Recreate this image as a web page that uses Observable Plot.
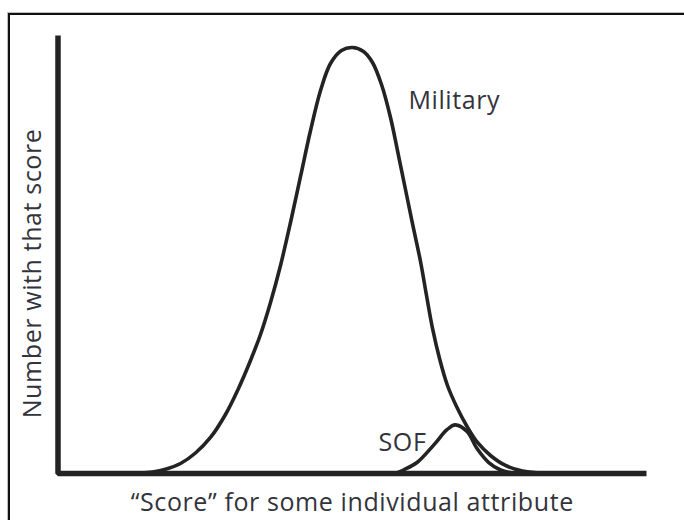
<!DOCTYPE html>
<html>
<head>
<meta charset="utf-8">
<script src="https://cdn.jsdelivr.net/npm/d3@7"></script>
<script src="https://cdn.jsdelivr.net/npm/@observablehq/plot@0.6"></script>
<style>
  html, body { margin: 0; padding: 0; background: #fff; overflow: hidden; }
  #wrap { position: relative; width: 684px; height: 520px; overflow: hidden; background: #fff; }
  #border { position: absolute; left: 8px; top: 13px; width: 720px; height: 600px;
            border-top: 2px solid #111; border-left: 2px solid #111;
            box-shadow: -1px -1px 0 #bdbdbd; pointer-events: none; }
  #chart { position: absolute; left: 0; top: 0; }
</style>
</head>
<body>
<div id="wrap"><div id="border"></div><div id="chart"></div></div>
<script>
// Scale domains (abstract units)
const scoreDomain = [0, 100];
const countDomain = [0, 100];

// "Military" population curve (score, number with that score)
const militaryScore = [11.47, 14.02, 16.06, 18.27, 20.82, 23.36, 25.91, 28.46, 30.67, 32.71, 34.41, 36.11, 37.81, 39.51, 41.21, 42.91, 44.61, 46.30, 48.17, 50.04, 51.91, 53.44, 54.97, 56.50, 57.86, 59.22, 60.41, 61.60, 62.62, 63.64, 64.83, 66.18, 67.72, 69.41, 71.28, 73.49, 76.04, 78.93, 81.99, 84.54];
const militaryCount = [0, 0.09, 0.34, 0.96, 2.28, 4.68, 8.22, 13.47, 19.41, 25.80, 31.74, 39.04, 47.49, 57.31, 67.81, 78.31, 87.44, 93.61, 96.58, 97.26, 96.35, 93.84, 88.81, 81.28, 72.60, 63.70, 55.94, 48.40, 40.64, 33.11, 26.26, 20.09, 15.30, 10.96, 7.08, 4.11, 1.83, 0.57, 0.09, 0];

// "SOF" population curve
const sofScore = [57.35, 58.7, 61.0, 63.9, 66.1, 67.5, 69.5, 71.2, 73.2, 75.2, 77.7];
const sofCount = [0, 0.8, 2.5, 6.6, 10.0, 11.1, 9.6, 5.7, 2.5, 0.8, 0];

// Texts
const seriesLabels = ["Military", "SOF"];
const labelScore = [59.55, 62.6];
const labelCount = [83.3, 5.25];
const xLabel = "\u201CScore\u201D for some individual attribute";
const yLabel = "Number with that score";

const military = militaryScore.map((s, i) => ({score: s, count: militaryCount[i]}));
const sof = sofScore.map((s, i) => ({score: s, count: sofCount[i]}));
const axisCorner = [
  {score: scoreDomain[0], count: countDomain[1]},
  {score: scoreDomain[0], count: countDomain[0]},
  {score: scoreDomain[1], count: countDomain[0]}
];
const labels = seriesLabels.map((t, i) => ({text: t, score: labelScore[i], count: labelCount[i]}));

const ink = "#232323";
const textInk = "#33333b";

const chart = Plot.plot({
  width: 684,
  height: 520,
  marginLeft: 57.5,
  marginRight: 38,
  marginTop: 35,
  marginBottom: 47,
  x: {domain: scoreDomain, axis: null},
  y: {domain: countDomain, axis: null},
  style: {fontFamily: "'Open Sans', sans-serif", background: "transparent", overflow: "visible", letterSpacing: "0.6px"},
  marks: [
    Plot.line(military, {x: "score", y: "count", curve: "catmull-rom", stroke: ink, strokeWidth: 3.6}),
    Plot.line(sof, {x: "score", y: "count", curve: "catmull-rom", stroke: ink, strokeWidth: 3.6}),
    Plot.line(axisCorner, {x: "score", y: "count", stroke: ink, strokeWidth: 5.5, strokeLinejoin: "miter", strokeLinecap: "butt"}),
    Plot.text(labels.slice(0, 1), {x: "score", y: "count", text: "text", textAnchor: "start", lineAnchor: "bottom", fontSize: 25, fill: textInk}),
    Plot.text(labels.slice(1), {x: "score", y: "count", text: "text", textAnchor: "end", lineAnchor: "bottom", fontSize: 25, fill: textInk}),
    Plot.text([xLabel], {frameAnchor: "bottom", text: d => d, textAnchor: "middle", lineAnchor: "bottom", dy: 37, fontSize: 25, fill: textInk}),
    Plot.text([yLabel], {frameAnchor: "left", text: d => d, rotate: -90, textAnchor: "middle", lineAnchor: "middle", dx: -25.5, dy: 19, fontSize: 25, fill: textInk})
  ]
});
document.getElementById("chart").appendChild(chart);
</script>
</body>
</html>
